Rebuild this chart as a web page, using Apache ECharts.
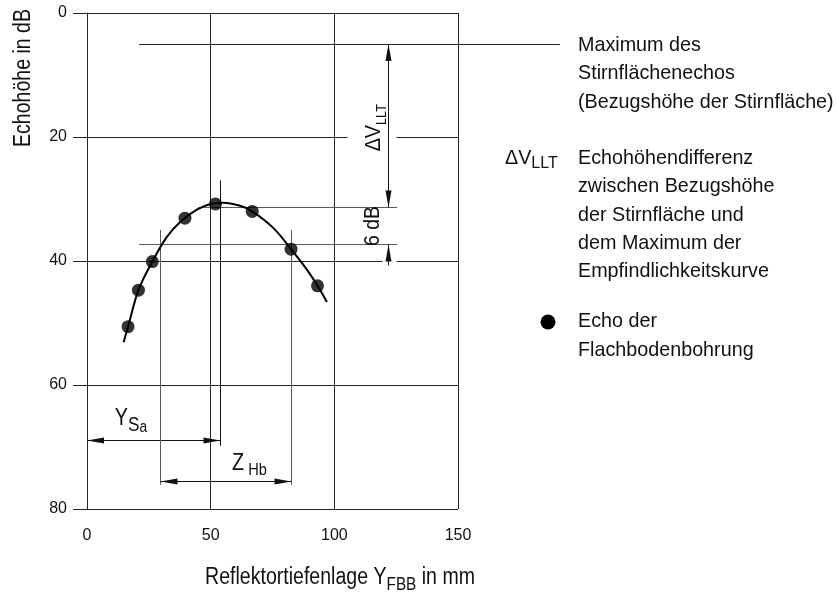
<!DOCTYPE html>
<html>
<head>
<meta charset="utf-8">
<script src="https://cdn.jsdelivr.net/npm/echarts@6/dist/echarts.min.js"></script>
<style>
  html, body { margin: 0; padding: 0; background: #fff; }
  #chart { width: 836px; height: 592px; }
</style>
</head>
<body>
<div id="chart"></div>
<script>
// Echoes of the flat-bottom holes: reflector depth (mm) and echo height (dB)
const echoDepth  = [16.6, 20.8, 26.4, 39.6, 51.9, 66.8, 82.5, 93.2];
const echoHeight = [50.6, 44.7, 40.1, 33.1, 30.8, 32.0, 38.1, 44.0];

// Sensitivity curve fitted through the echoes
const curveDepth  = [14.8, 16.6, 20.8, 26.4, 32.3, 38.0, 44.4, 50.0, 55.0, 61.9, 66.8, 75.4, 82.5, 88.9, 93.2, 97.0];
const curveHeight = [53.1, 50.6, 44.7, 40.1, 36.1, 33.6, 31.7, 30.8, 30.6, 31.1, 32.0, 34.7, 38.1, 41.4, 44.0, 46.6];

// Axis ticks
const depthTicks  = [0, 50, 100, 150];
const heightTicks = [0, 20, 40, 60, 80];

// Reference levels (dB)
const faceLevel = 5;                     // maximum of the end-face echo
const curvePeak = 31.3;                  // maximum of the sensitivity curve
const dropDb    = 6;                     // drop below the curve maximum
const dropLevel = curvePeak + dropDb;

// Dimension positions (mm / dB)
const leaderStart = 21.1, leaderEnd = 191.2;   // end-face reference line
const peakLineStart = 45, levelLineEnd = 125.4;
const dimDepth = 122.1;                        // ΔV_LLT / 6 dB dimension line
const peakDepth = 53.9;                        // Y_Sa
const ySaTop = 27, ySaBottom = 69.8, ySaArrow = 68.9;
const zLeft = 29.6, zRight = 82.5;             // Z_Hb limits
const zTop = 35, zBottom = 76.1, zArrow = 75.6;

const FONT = "'Liberation Sans','Arial',sans-serif";
const INK = '#111';
const GRID_INK = '#262626';
const AUX_INK = '#5a5a5a';

function crisp(v) { return Math.round(v - 0.5) + 0.5; }

function tok(size, lh, extra) {
  return Object.assign({ fontSize: size, lineHeight: lh, fontFamily: FONT, fill: INK, color: INK }, extra || {});
}

function renderAnnotations(params, api) {
  const P = (x, y) => api.coord([x, y]);
  const kids = [];
  const seg = (x1, y1, x2, y2, color) => kids.push({
    type: 'line', shape: { x1, y1, x2, y2 },
    style: { stroke: color || GRID_INK, lineWidth: 1 }
  });
  const hline = (xa, xb, y, color) => {
    const a = P(xa, y), b = P(xb, y), yy = crisp(a[1]);
    seg(a[0], yy, b[0], yy, color); return yy;
  };
  const vline = (x, ya, yb, color) => {
    const a = P(x, ya), b = P(x, yb), xx = crisp(a[0]);
    seg(xx, a[1], xx, b[1], color); return xx;
  };
  const head = (tx, ty, dx, dy) => {
    const L = 17, W = 3;
    const bx = tx - dx * L, by = ty - dy * L;
    kids.push({ type: 'polygon',
      shape: { points: [[tx, ty], [bx - dy * W, by + dx * W], [bx + dy * W, by - dx * W]] },
      style: { fill: INK } });
  };
  const mask = (x, y, w, h) => kids.push({ type: 'rect', shape: { x, y, width: w, height: h }, style: { fill: '#fff' } });
  const label = (x, y, text, rich, rot, sx) => kids.push({
    type: 'text', x, y, rotation: rot || 0, scaleX: sx || 1,
    style: { text, rich, align: 'center', verticalAlign: 'middle', fontFamily: FONT, fill: INK }
  });

  const dimX = crisp(P(dimDepth, 0)[0]);
  const faceY = P(0, faceLevel)[1];
  const peakY = crisp(P(0, curvePeak)[1]);
  const dropY = crisp(P(0, dropLevel)[1]);

  // white gaps where labels and arrowheads cross the grid
  mask(dimX - 41, (faceY + peakY) / 2 - 30, 49, 60);
  mask(dimX - 6, dropY + 6, 14, 14);

  // end-face reference level with leader to the legend
  hline(leaderStart, leaderEnd, faceLevel, GRID_INK);
  // curve maximum and the level 6 dB below it
  hline(peakLineStart, levelLineEnd, curvePeak, AUX_INK);
  hline(leaderStart, levelLineEnd, dropLevel, AUX_INK);

  // ΔV_LLT dimension
  seg(dimX, faceY, dimX, peakY, INK);
  head(dimX, faceY, 0, -1);
  head(dimX, peakY, 0, 1);
  label(dimX - 15, (faceY + peakY) / 2 + 2, '{m|ΔV}{s|LLT}', {
    m: tok(22, 32), s: tok(14, 15, { verticalAlign: 'bottom' })
  }, Math.PI / 2, 0.9);

  // 6 dB dimension (arrow from below)
  seg(dimX, dropY, dimX, dropY + 21, INK);
  head(dimX, dropY, 0, -1);
  label(dimX - 16, (peakY + dropY) / 2, '{m|' + dropDb + ' dB}', { m: tok(22, 26) }, Math.PI / 2, 0.88);

  // Y_Sa: depth of the curve maximum
  const ySaX = vline(peakDepth, ySaTop, ySaBottom, INK);
  const ySaY = crisp(P(0, ySaArrow)[1]);
  const x0 = P(0, 0)[0];
  seg(x0, ySaY, ySaX, ySaY, INK);
  head(x0, ySaY, -1, 0);
  head(ySaX, ySaY, 1, 0);
  label(x0 + 44, ySaY - 22, '{m|Y}{s|S}{t|a}', {
    m: tok(23, 34), s: tok(20, 22, { verticalAlign: 'bottom' }), t: tok(16, 9, { verticalAlign: 'bottom' })
  }, 0, 0.86);

  // Z_Hb: width of the curve at the 6 dB level
  const zl = vline(zLeft, zTop, zBottom, AUX_INK);
  const zr = vline(zRight, zTop, zBottom, AUX_INK);
  const zY = crisp(P(0, zArrow)[1]);
  seg(zl, zY, zr, zY, INK);
  head(zl, zY, -1, 0);
  head(zr, zY, 1, 0);
  label(zr - 42, zY - 18, '{m|Z}{s| Hb}', {
    m: tok(23, 30), s: tok(17, 15, { verticalAlign: 'bottom' })
  }, 0, 0.86);

  return { type: 'group', children: kids };
}

const legendText = { fontFamily: FONT, fontSize: 21, lineHeight: 28.3, fill: INK };

const option = {
  animation: false,
  backgroundColor: '#fff',
  grid: { left: 87, top: 13, width: 371, height: 496, containLabel: false },
  xAxis: {
    type: 'value', min: depthTicks[0], max: depthTicks[depthTicks.length - 1],
    interval: depthTicks[1] - depthTicks[0],
    axisLine: { show: true, lineStyle: { color: GRID_INK, width: 1 } },
    axisTick: { show: true, inside: false, length: 13, lineStyle: { color: GRID_INK, width: 1 } },
    splitLine: { show: true, lineStyle: { color: GRID_INK, width: 1 } },
    axisLabel: { fontFamily: FONT, fontSize: 16, color: INK, margin: 19 }
  },
  yAxis: {
    type: 'value', inverse: true, min: heightTicks[0], max: heightTicks[heightTicks.length - 1],
    interval: heightTicks[1] - heightTicks[0],
    axisLine: { show: true, lineStyle: { color: GRID_INK, width: 1 } },
    axisTick: { show: true, inside: false, length: 14, lineStyle: { color: GRID_INK, width: 1 } },
    splitLine: { show: true, lineStyle: { color: GRID_INK, width: 1 } },
    axisLabel: { fontFamily: FONT, fontSize: 16, color: INK, margin: 20 }
  },
  graphic: [
    { type: 'text', x: 24, y: 78, rotation: Math.PI / 2, scaleX: 0.85,
      style: { text: 'Echohöhe in dB', fontFamily: FONT, fontSize: 23, fill: INK, align: 'center', verticalAlign: 'middle' } },
    { type: 'text', x: 340, y: 578, scaleX: 0.85,
      style: { text: '{m|Reflektortiefenlage Y}{s|FBB}{m| in mm}', align: 'center', verticalAlign: 'middle',
        rich: { m: tok(23, 32), s: tok(18, 19, { verticalAlign: 'bottom' }) } } },
    { type: 'text', x: 578, y: 31, scaleX: 0.94,
      style: Object.assign({ text: 'Maximum des\nStirnflächenechos\n(Bezugshöhe der Stirnfläche)', verticalAlign: 'top' }, legendText) },
    { type: 'text', x: 505, y: 158, scaleX: 0.94,
      style: { text: '{m|ΔV}{s|LLT}', align: 'left', verticalAlign: 'middle',
        rich: { m: tok(21, 28), s: tok(17, 16, { verticalAlign: 'bottom' }) } } },
    { type: 'text', x: 578, y: 144, scaleX: 0.94,
      style: Object.assign({ text: 'Echohöhendifferenz\nzwischen Bezugshöhe\nder Stirnfläche und\ndem Maximum der\nEmpfindlichkeitskurve', verticalAlign: 'top' }, legendText) },
    { type: 'circle', shape: { cx: 548, cy: 322, r: 7.5 }, style: { fill: '#000' } },
    { type: 'text', x: 578, y: 307.5, scaleX: 0.94,
      style: Object.assign({ text: 'Echo der\nFlachbodenbohrung', verticalAlign: 'top' }, legendText) }
  ],
  series: [
    {
      type: 'custom', name: 'Bemaßung', z: 2, silent: true,
      data: [[0, 0]],
      renderItem: renderAnnotations
    },
    {
      type: 'line', name: 'Empfindlichkeitskurve', z: 3, silent: true,
      data: curveDepth.map((d, i) => [d, curveHeight[i]]),
      smooth: 0.35, showSymbol: false,
      lineStyle: { color: '#000', width: 2 }
    },
    {
      type: 'scatter', name: 'Echo der Flachbodenbohrung', z: 4, silent: true,
      data: echoDepth.map((d, i) => [d, echoHeight[i]]),
      symbol: 'circle', symbolSize: 13,
      itemStyle: { color: '#000' }
    }
  ]
};

const chart = echarts.init(document.getElementById('chart'), null, { renderer: 'canvas' });
chart.setOption(option);
</script>
</body>
</html>
